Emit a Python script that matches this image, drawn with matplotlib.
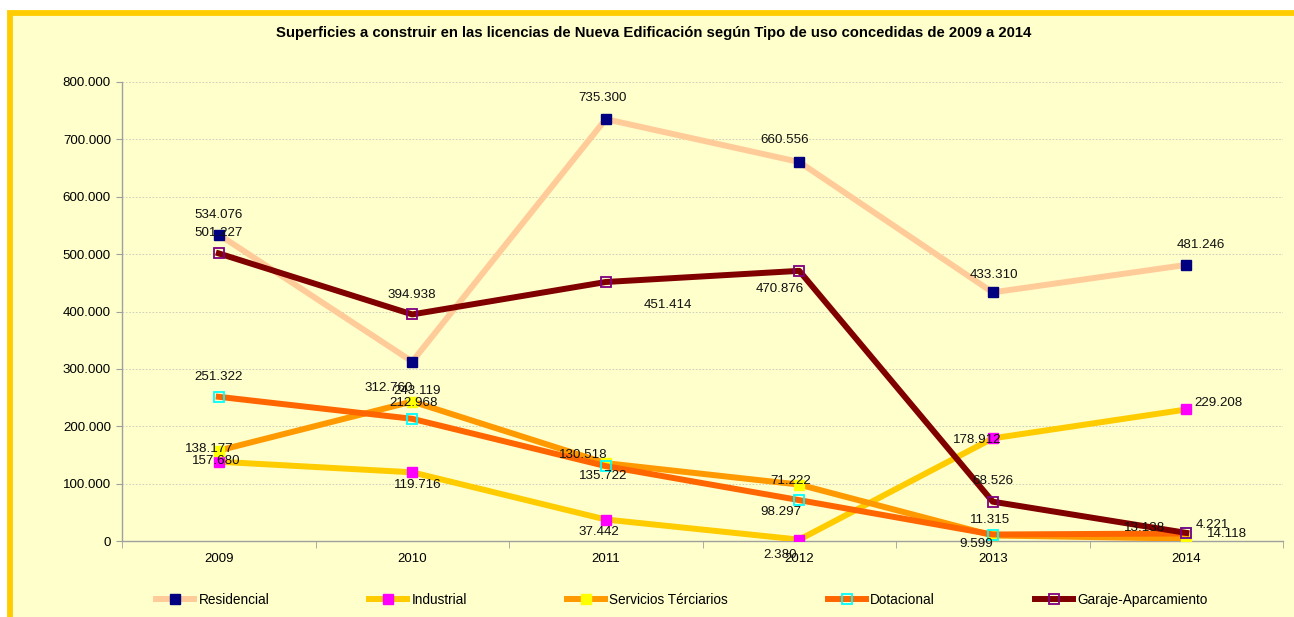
import matplotlib
matplotlib.use("Agg")
import matplotlib.pyplot as plt
from matplotlib.patches import Rectangle
from matplotlib.ticker import FuncFormatter, MultipleLocator

plt.rcParams['font.family'] = ['Liberation Sans', 'DejaVu Sans']

years = ["2009", "2010", "2011", "2012", "2013", "2014"]
series_names = ["Residencial", "Industrial", "Servicios Térciarios", "Dotacional", "Garaje-Aparcamiento"]

residencial = [534076, 312760, 735300, 660556, 433310, 481246]
industrial = [138177, 119716, 37442, 2380, 178912, 229208]
servicios = [157680, 243119, 135722, 98297, 9599, 4221]
dotacional = [251322, 212968, 130518, 71222, 11315, 13138]
garaje = [501227, 394938, 451414, 470876, 68526, 14118]

# estilo de cada serie: color linea, color marcador, relleno
estilos = [
    ("#FFCC99", "#000080", True),
    ("#FFCC00", "#FF00FF", True),
    ("#FF9900", "#FFFF00", True),
    ("#FF6600", "#00FFFF", False),
    ("#800000", "#800080", False),
]

# desplazamiento de las etiquetas (pixeles) como en el original
offsets = [
    [(0, 20), (-24, -26), (-3, 21), (-15, 22), (1, 17), (15, 20)],
    [(-10, 13), (6, -13), (-7, -12), (-19, -15), (-16, -2), (32, 6)],
    [(-3, -10), (5, 11), (-3, -13), (-18, -27), (-16, -9), (26, 14)],
    [(0, 20), (1, 16), (-22, 11), (-9, 19), (-3, 15), (-42, 5)],
    [(0, 20), (0, 19), (62, -23), (-19, -18), (0, 21), (41, -1)],
]

def fmt_miles(v):
    return "{:,}".format(int(v)).replace(",", ".")

fig = plt.figure(figsize=(12.94, 6.17), dpi=100, facecolor="white")
fondo = Rectangle((9.5 / 1294, -0.1), 1.2, (617 - 13) / 617 + 0.1,
                  transform=fig.transFigure, facecolor="#FFFFCC",
                  edgecolor="#FFCC00", linewidth=4.2, zorder=0)
fig.add_artist(fondo)

ax = fig.add_axes([122 / 1294, 76 / 617, (1283 - 122) / 1294, (541 - 82) / 617])
ax.set_facecolor("none")

x = list(range(len(years)))
datos = [residencial, industrial, servicios, dotacional, garaje]
for i, (nombre, vals) in enumerate(zip(series_names, datos)):
    lc, mc, relleno = estilos[i]
    ax.plot(x, vals, color=lc, linewidth=4.3, marker="s", markersize=7.5 if relleno else 7,
            markerfacecolor=mc if relleno else "none", markeredgecolor=mc,
            markeredgewidth=1.0 if relleno else 1.3, label=nombre, zorder=3 + i)

for i, vals in enumerate(datos):
    for j, v in enumerate(vals):
        ax.annotate(fmt_miles(v), (j, v), xytext=offsets[i][j], textcoords="offset pixels",
                    ha="center", va="center", fontsize=9.6, color="#111111", zorder=20)

ax.set_xlim(-0.5, 5.5)
ax.set_ylim(0, 800000)
ax.set_xticks(x)
ax.set_xticklabels(years)
ax.set_xticks([k + 0.5 for k in range(-1, 6)], minor=True)
ax.tick_params(axis="x", which="major", length=0, pad=9, labelsize=9.5)
ax.tick_params(axis="x", which="minor", length=5, color="#A0A0A0", direction="out")
ax.yaxis.set_major_locator(MultipleLocator(100000))
ax.yaxis.set_major_formatter(FuncFormatter(lambda v, p: fmt_miles(v)))
ax.tick_params(axis="y", length=4, color="#A0A0A0", pad=4, labelsize=9.6)
ax.grid(axis="y", color="#C8C8B8", linestyle=(0, (2, 2)), linewidth=0.6)
ax.set_axisbelow(True)
for s in ["top", "right"]:
    ax.spines[s].set_visible(False)
for s in ["left", "bottom"]:
    ax.spines[s].set_color("#A0A0A0")
    ax.spines[s].set_linewidth(1.0)

fig.text(0.505, 1 - 33 / 617, "Superficies a construir en las licencias de Nueva Edificación según Tipo de uso concedidas de 2009 a 2014",
         ha="center", va="center", fontsize=10.7, fontweight="bold")

fig.legend(loc="center", bbox_to_anchor=(0.527, 1 - 600 / 617), ncol=5, frameon=False,
           fontsize=9.8, handlelength=2.8, handletextpad=0.3, columnspacing=7.35, numpoints=1)

fig.savefig("out.png", dpi=100)
